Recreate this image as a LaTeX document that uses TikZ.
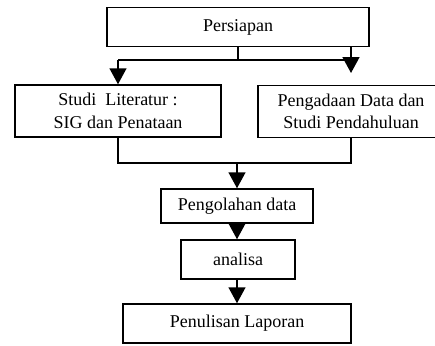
\documentclass[tikz,border=0pt]{standalone}
\usepackage{fontspec}
\setmainfont{Liberation Serif}
\usetikzlibrary{arrows.meta}
\begin{document}
\begin{tikzpicture}[x=1pt,y=-1pt,
  box/.style={draw, line width=1.5pt, inner sep=0pt, align=center,
    font=\fontsize{18}{22.5}\selectfont},
  conn/.style={line width=1.5pt},
  arr/.style={line width=1.5pt, -{Triangle[width=17pt,length=16pt]}}]
\useasboundingbox (0,0) rectangle (435,345);
\node[box, minimum width=262pt, minimum height=39pt] (p) at (238,27) {Persiapan};
\node[box, minimum width=206pt, minimum height=52pt] (l) at (118,111) {Studi\ \ Literatur :\\SIG dan Penataan};
\node[box, minimum width=186pt, minimum height=52pt] (r) at (351,111.5) {Pengadaan Data dan\\Studi Pendahuluan};
\node[box, minimum width=152pt, minimum height=34pt] (og) at (237,206) {Pengolahan data};
\node[box, minimum width=114pt, minimum height=39pt] (an) at (238,259.5) {analisa};
\node[box, minimum width=228pt, minimum height=39pt] (pl) at (237,323.5) {Penulisan Laporan};
% top split
\coordinate (j1) at (238,60);
\coordinate (hl) at (118,60);
\coordinate (hr) at (351,60);
\coordinate (rt) at (351,73);
\draw[conn] (p.south -| j1) -- (j1);
\draw[conn] (hl) -- (hr);
\draw[arr] (hl) -- (l.north);
\draw[arr] (p.south -| rt) -- (rt);
% merge
\coordinate (ml) at (118,163);
\coordinate (mr) at (351,163);
\coordinate (mc) at (237,163);
\draw[conn] (l.south) -- (ml) -- (mr) -- (r.south);
\draw[arr] (mc) -- (og.north);
\draw[arr] (og.south) -- (an.north -| og.south);
\draw[arr] (an.south -| pl.north) -- (pl.north);
\end{tikzpicture}
\end{document}
